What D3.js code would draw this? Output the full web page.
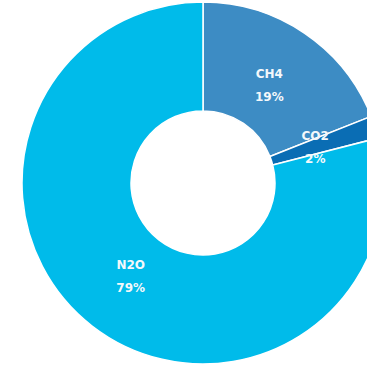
<!DOCTYPE html>
<html>
<head>
<meta charset="utf-8">
<script src="https://cdn.jsdelivr.net/npm/d3@7"></script>
<style>
  html, body { margin: 0; padding: 0; background: #ffffff; overflow: hidden; }
  svg { display: block; }
</style>
</head>
<body>
<svg id="chart" width="367" height="365"></svg>
<script>
// Greenhouse gas shares, drawn clockwise from 12 o'clock
const gases = ["CH4", "CO2", "N2O"];
const shares = [19, 2, 79];
const shareLabels = ["19%", "2%", "79%"];
const gasColors = ["#3d8cc4", "#0a6db4", "#00bbea"];

const svg = d3.select("#chart");
const cx = 203, cy = 183;
const outerR = 181, innerR = 72, labelR = 118;

const data = gases.map((g, i) => ({ gas: g, value: shares[i], label: shareLabels[i], color: gasColors[i] }));

const pie = d3.pie().value(d => d.value).sort(null);
const arc = d3.arc().innerRadius(innerR).outerRadius(outerR);
const labelArc = d3.arc().innerRadius(labelR).outerRadius(labelR);

const g = svg.append("g").attr("transform", `translate(${cx},${cy})`);
const arcs = pie(data);

g.selectAll("path.slice")
  .data(arcs)
  .join("path")
  .attr("class", "slice")
  .attr("d", arc)
  .attr("fill", d => d.data.color)
  .attr("stroke", "#ffffff")
  .attr("stroke-width", 1.5)
  .attr("stroke-linejoin", "round");

const labels = g.selectAll("g.label")
  .data(arcs)
  .join("g")
  .attr("class", "label")
  .attr("transform", d => `translate(${labelArc.centroid(d)})`);

labels.append("text")
  .attr("text-anchor", "middle")
  .attr("y", -7)
  .attr("font-family", "DejaVu Sans, Verdana, sans-serif")
  .attr("font-weight", "bold")
  .attr("font-size", 12)
  .attr("fill", "#f4f8fb")
  .text(d => d.data.gas);

labels.append("text")
  .attr("text-anchor", "middle")
  .attr("y", 16)
  .attr("font-family", "DejaVu Sans, Verdana, sans-serif")
  .attr("font-weight", "bold")
  .attr("font-size", 12)
  .attr("fill", "#f4f8fb")
  .text(d => d.data.label);
</script>
</body>
</html>
